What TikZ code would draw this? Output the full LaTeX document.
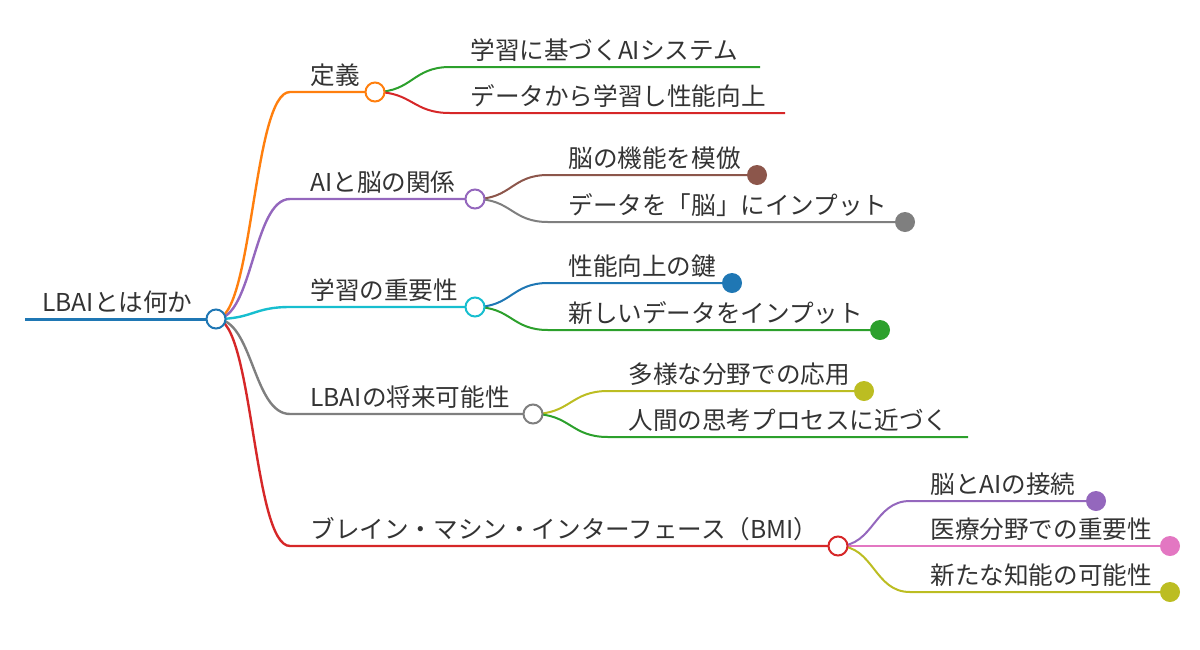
\documentclass[tikz,border=0pt]{standalone}
\usepackage{fontspec}
\setmainfont{Noto Sans CJK JP}
\usetikzlibrary{calc}
\pgfdeclarelayer{bg}
\pgfsetlayers{bg,main}
\definecolor{mblue}{HTML}{1F77B4}
\definecolor{morange}{HTML}{FF7F0E}
\definecolor{mgreen}{HTML}{2CA02C}
\definecolor{mred}{HTML}{D62728}
\definecolor{mpurple}{HTML}{9467BD}
\definecolor{mbrown}{HTML}{8C564B}
\definecolor{mpink}{HTML}{E377C2}
\definecolor{mgray}{HTML}{7F7F7F}
\definecolor{molive}{HTML}{BCBD22}
\definecolor{mcyan}{HTML}{17BECF}

\begin{document}
\begin{tikzpicture}[x=0.5pt, y=-0.5pt,
        mtext/.style = {anchor=base west, inner sep=0pt, text=black!80, font=\fontsize{12.3}{14}\selectfont},
        mring/.style = {circle, fill=white, line width=1pt, minimum size=9.5pt, inner sep=0pt},
        mdot/.style = {circle, minimum size=10pt, inner sep=0pt},
        mroot/.style = {line width=1.5pt},
        mbranch/.style = {line width=1.2pt},
        mleaf/.style = {line width=1pt},
        mlink/.style = {to path={let \p1=(\tikztostart), \p2=(\tikztotarget) in
            .. controls ({0.5*\x1+0.5*\x2},\y1) and ({0.5*\x1+0.5*\x2},\y2) .. (\tikztotarget)}}
    ]
        \useasboundingbox (0,0) rectangle (1200,649);

        % root
        \coordinate (s0) at (25,319);
        \node[mring, draw=mblue] (c0) at (216,319) {};
        \node[mtext] (t0) at (42,311) {LBAIとは何か};

        % 定義
        \coordinate (s1) at (290,92);
        \node[mring, draw=morange] (c1) at (375,92) {};
        \node[mtext] (t1) at (310,84) {定義};
        \coordinate (s11) at (450,67);  \coordinate (e11) at (760,67);
        \node[mtext] (t11) at (470,59) {学習に基づくAIシステム};
        \coordinate (s12) at (450,113); \coordinate (e12) at (785,113);
        \node[mtext] (t12) at (470,105) {データから学習し性能向上};

        % AIと脳の関係
        \coordinate (s2) at (290,199);
        \node[mring, draw=mpurple] (c2) at (475,199) {};
        \node[mtext] (t2) at (310,191) {AIと脳の関係};
        \coordinate (s21) at (548,175);
        \node[mdot, fill=mbrown] (c21) at (757,175) {};
        \node[mtext] (t21) at (568,167) {脳の機能を模倣};
        \coordinate (s22) at (548,222);
        \node[mdot, fill=mgray] (c22) at (905,222) {};
        \node[mtext] (t22) at (568,214) {データを「脳」にインプット};

        % 学習の重要性
        \coordinate (s3) at (290,307);
        \node[mring, draw=mcyan] (c3) at (475,307) {};
        \node[mtext] (t3) at (310,299) {学習の重要性};
        \coordinate (s31) at (548,283);
        \node[mdot, fill=mblue] (c31) at (732,283) {};
        \node[mtext] (t31) at (568,275) {性能向上の鍵};
        \coordinate (s32) at (548,330);
        \node[mdot, fill=mgreen] (c32) at (880,330) {};
        \node[mtext] (t32) at (568,322) {新しいデータをインプット};

        % LBAIの将来可能性
        \coordinate (s4) at (290,414);
        \node[mring, draw=mgray] (c4) at (533,414) {};
        \node[mtext] (t4) at (310,406) {LBAIの将来可能性};
        \coordinate (s41) at (608,391);
        \node[mdot, fill=molive] (c41) at (864,391) {};
        \node[mtext] (t41) at (628,383) {多様な分野での応用};
        \coordinate (s42) at (608,437); \coordinate (e42) at (968,437);
        \node[mtext] (t42) at (628,429) {人間の思考プロセスに近づく};

        % BMI
        \coordinate (s5) at (290,546);
        \node[mring, draw=mred] (c5) at (838,546) {};
        \node[mtext] (t5) at (310,538) {ブレイン・マシン・インターフェース（BMI）};
        \coordinate (s51) at (910,501);
        \node[mdot, fill=mpurple] (c51) at (1096,501) {};
        \node[mtext] (t51) at (930,493) {脳とAIの接続};
        \coordinate (s52) at (910,546);
        \node[mdot, fill=mpink] (c52) at (1170,546) {};
        \node[mtext] (t52) at (930,538) {医療分野での重要性};
        \coordinate (s53) at (910,592);
        \node[mdot, fill=molive] (c53) at (1170,592) {};
        \node[mtext] (t53) at (930,584) {新たな知能の可能性};

        \begin{pgfonlayer}{bg}
            \draw[mroot, mblue] (s0) -- (c0.center);

            \draw[mbranch, morange] (c0.center) to[mlink] (s1) -- (c1.center);
            \draw[mleaf, mgreen] (c1.center) to[mlink] (s11) -- (e11);
            \draw[mleaf, mred] (c1.center) to[mlink] (s12) -- (e12);

            \draw[mbranch, mpurple] (c0.center) to[mlink] (s2) -- (c2.center);
            \draw[mleaf, mbrown] (c2.center) to[mlink] (s21) -- (c21.center);
            \draw[mleaf, mgray] (c2.center) to[mlink] (s22) -- (c22.center);

            \draw[mbranch, mcyan] (c0.center) to[mlink] (s3) -- (c3.center);
            \draw[mleaf, mblue] (c3.center) to[mlink] (s31) -- (c31.center);
            \draw[mleaf, mgreen] (c3.center) to[mlink] (s32) -- (c32.center);

            \draw[mbranch, mgray] (c0.center) to[mlink] (s4) -- (c4.center);
            \draw[mleaf, molive] (c4.center) to[mlink] (s41) -- (c41.center);
            \draw[mleaf, mgreen] (c4.center) to[mlink] (s42) -- (e42);

            \draw[mbranch, mred] (c0.center) to[mlink] (s5) -- (c5.center);
            \draw[mleaf, mpurple] (c5.center) to[mlink] (s51) -- (c51.center);
            \draw[mleaf, mpink] (c5.center) to[mlink] (s52) -- (c52.center);
            \draw[mleaf, molive] (c5.center) to[mlink] (s53) -- (c53.center);
        \end{pgfonlayer}

    \end{tikzpicture}
\end{document}
